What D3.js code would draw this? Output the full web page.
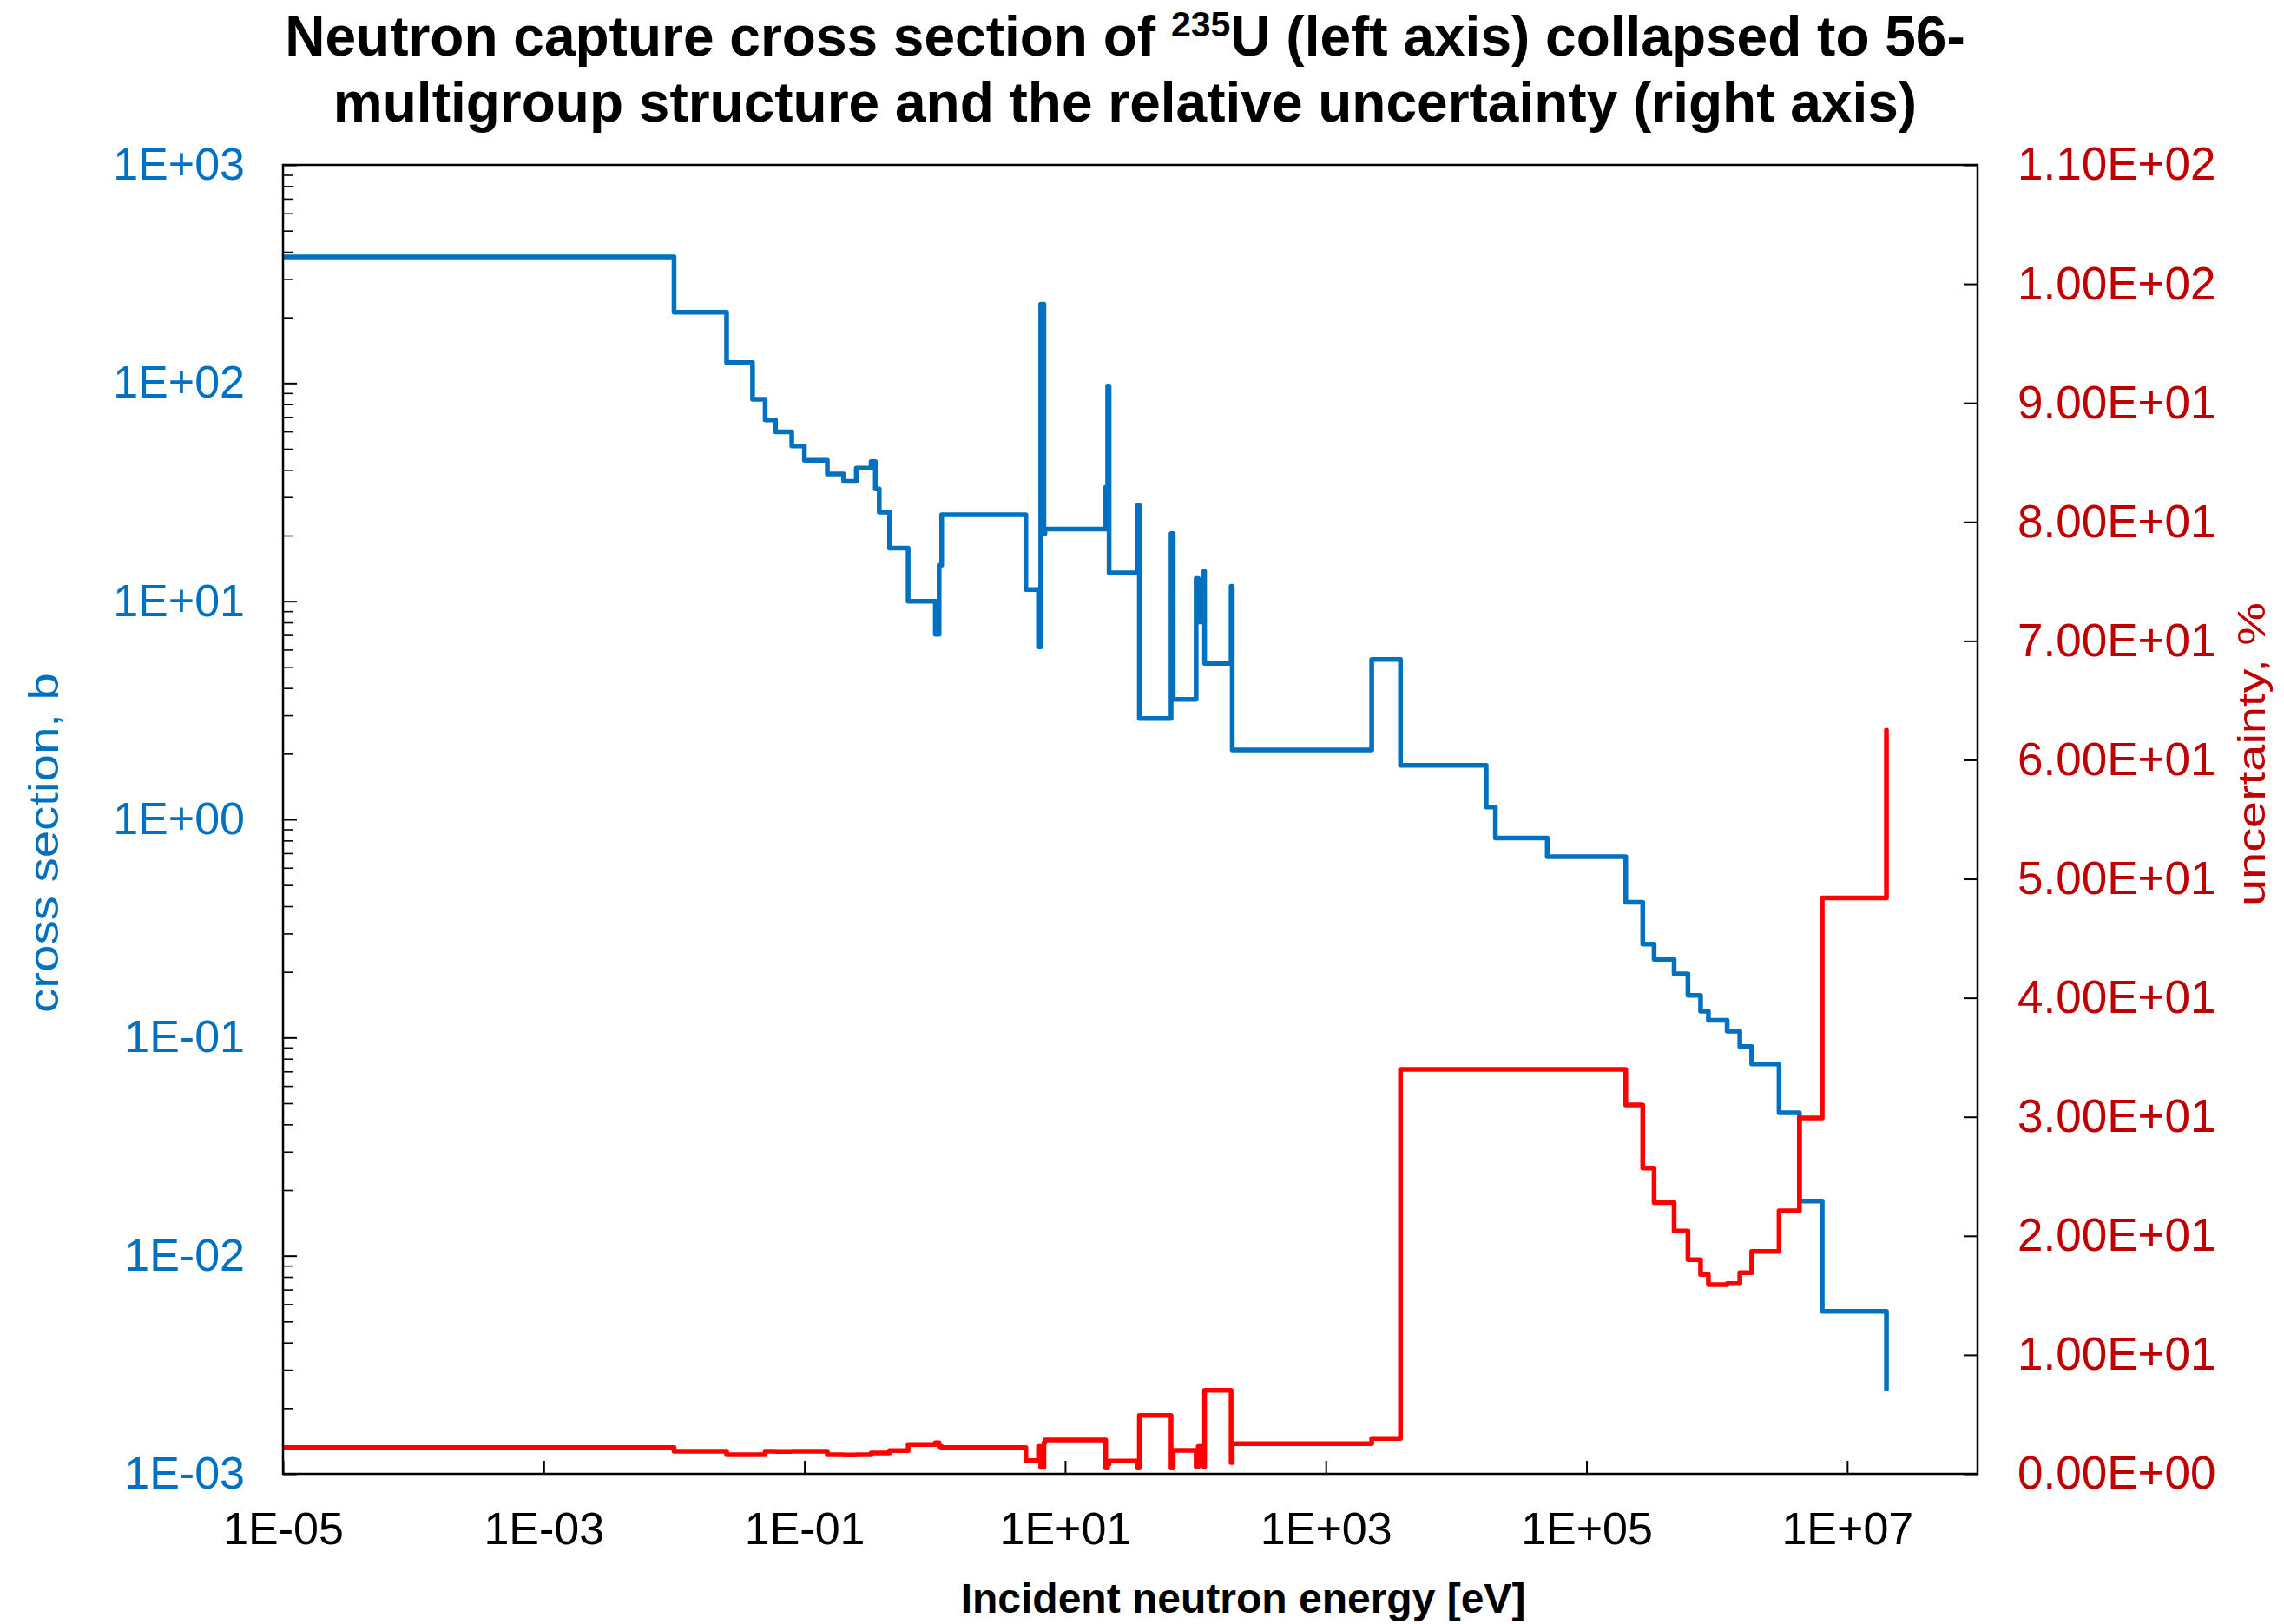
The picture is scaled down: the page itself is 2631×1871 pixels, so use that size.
<!DOCTYPE html>
<html>
<head>
<meta charset="utf-8">
<script src="https://cdn.jsdelivr.net/npm/d3@7"></script>
<style>
  html, body { margin: 0; padding: 0; background: #fff; }
  svg { display: block; }
</style>
</head>
<body>
<svg id="chart" width="2631" height="1871"></svg>
<script>
// Group boundaries of the 56-group structure, eV (ascending)
const energyBounds = [
  1e-5, 1e-2, 2.53e-2, 4e-2, 5e-2, 6e-2, 8e-2, 1e-1, 1.5e-1, 2e-1, 2.5e-1,
  3.25e-1, 3.5e-1, 3.75e-1, 4.5e-1, 6.25e-1, 1.01, 1.08, 1.13, 5.0, 6.25,
  6.5, 6.875, 7.0, 20.48, 21.2, 21.75, 36, 37.13, 65, 67.5, 101.2, 105, 116,
  117.5, 187.7, 191.5, 2250, 3740, 17000, 20000, 50000, 2e5, 2.7e5, 3.3e5,
  4.7e5, 6e5, 7.5e5, 8.61e5, 1.2e6, 1.5e6, 1.85e6, 3e6, 4.3e6, 6.43e6, 2e7
];

// Group-averaged capture cross section, barns (one value per group)
const crossSection = [
  379, 211, 124, 84.3, 67.8, 59.8, 51.5, 44.3, 38.3, 35.5, 40.8,
  43.7, 32.7, 25.6, 17.5, 10.0, 7.06, 14.6, 24.9, 11.3, 6.18,
  230, 20.4, 21.4, 33.3, 97, 13.5, 27.5, 2.9, 20.4, 3.55, 12.7, 8.03,
  13.7, 5.19, 11.7, 2.08, 5.41, 1.77, 1.14, 0.822, 0.675, 0.417, 0.268,
  0.228, 0.196, 0.156, 0.132, 0.120, 0.107, 0.091, 0.0756, 0.0452, 0.0178, 0.00556
];
const crossSectionEnd = 0.00245;

// Relative uncertainty, % (one value per group)
const uncertainty = [
  2.21, 1.90, 1.60, 1.60, 1.90, 1.88, 1.90, 1.90, 1.60, 1.58, 1.60,
  1.75, 1.75, 1.75, 1.95, 2.46, 2.60, 2.30, 2.21, 1.12, 2.30,
  0.55, 2.60, 2.84, 0.50, 0.80, 1.07, 0.50, 4.91, 0.50, 1.97, 0.60, 2.30,
  0.60, 7.03, 0.95, 2.53, 2.97, 34.0, 34.0, 34.0, 34.0, 31.0, 25.7,
  22.8, 20.4, 18.0, 16.75, 15.9, 16.0, 16.9, 18.7, 22.1, 29.9, 48.4
];
const uncertaintyEnd = 62.5;

// Tick values
const energyTicks = [1e-5, 1e-3, 1e-1, 1e1, 1e3, 1e5, 1e7];
const sigmaTicks = [1e-3, 1e-2, 1e-1, 1e0, 1e1, 1e2, 1e3];
const uncTicks = [0, 10, 20, 30, 40, 50, 60, 70, 80, 90, 100, 110];

const FONT = "'Liberation Sans', Arial, Helvetica, sans-serif";
const BLUE = "#0070C0";
const RED = "#FF0000";
const DARKRED = "#C00000";

const plot = { left: 326, right: 2278, top: 190, bottom: 1698 };

const svg = d3.select("#chart");

const x = d3.scaleLog().domain([1e-5, 1e8]).range([plot.left, plot.right]);
const yL = d3.scaleLog().domain([1e-3, 1e3]).range([plot.bottom, plot.top]);
const yR = d3.scaleLinear().domain([0, 110]).range([plot.bottom, plot.top]);

function expLabel(v) {
  const p = Math.round(Math.log10(v));
  return "1E" + (p < 0 ? "-" : "+") + String(Math.abs(p)).padStart(2, "0");
}
function sciLabel(v) {
  const s = v.toExponential(2);           // e.g. "1.10e+2"
  const [m, e] = s.split("e");
  const n = parseInt(e, 10);
  return m + "E" + (n < 0 ? "-" : "+") + String(Math.abs(n)).padStart(2, "0");
}

// Minor ticks of the log axis (2..9 in every decade)
const sigmaMinor = [];
for (let d = -3; d < 3; d++) {
  for (let k = 2; k <= 9; k++) sigmaMinor.push(k * Math.pow(10, d));
}

// Left axis: minor ticks
const gMinor = svg.append("g")
  .attr("transform", `translate(${plot.left},0)`)
  .call(d3.axisLeft(yL).tickValues(sigmaMinor).tickSize(-12).tickFormat(""));
gMinor.select(".domain").remove();
gMinor.selectAll("line").attr("stroke", "#000").attr("stroke-width", 1.6);

// Left axis: decades
const gLeft = svg.append("g")
  .attr("transform", `translate(${plot.left},0)`)
  .call(d3.axisLeft(yL).tickValues(sigmaTicks).tickSize(-16).tickPadding(44).tickFormat(expLabel));
gLeft.select(".domain").remove();
gLeft.selectAll("line").attr("stroke", "#000").attr("stroke-width", 2);
gLeft.selectAll("text")
  .attr("fill", BLUE).attr("font-family", FONT).attr("font-size", 52);

// Right axis
const gRight = svg.append("g")
  .attr("transform", `translate(${plot.right},0)`)
  .call(d3.axisRight(yR).tickValues(uncTicks).tickSize(-16).tickPadding(46).tickFormat(sciLabel));
gRight.select(".domain").remove();
gRight.selectAll("line").attr("stroke", "#000").attr("stroke-width", 2);
gRight.selectAll("text")
  .attr("fill", DARKRED).attr("font-family", FONT).attr("font-size", 53);

// Bottom axis
const gBottom = svg.append("g")
  .attr("transform", `translate(0,${plot.bottom})`)
  .call(d3.axisBottom(x).tickValues(energyTicks).tickSize(-15).tickPadding(44).tickFormat(expLabel));
gBottom.select(".domain").remove();
gBottom.selectAll("line").attr("stroke", "#000").attr("stroke-width", 2);
gBottom.selectAll("text")
  .attr("fill", "#000").attr("font-family", FONT).attr("font-size", 52);

// Step series: each group value held from its lower to its upper bound
function stepPoints(values, endValue) {
  const pts = values.map((v, i) => [energyBounds[i], v]);
  const last = energyBounds[energyBounds.length - 1];
  pts.push([last, values[values.length - 1]]);
  pts.push([last, endValue]);
  return pts;
}

svg.append("clipPath").attr("id", "plotClip")
  .append("rect")
  .attr("x", plot.left).attr("y", plot.top - 4)
  .attr("width", plot.right - plot.left).attr("height", plot.bottom - plot.top + 8);

const lineL = d3.line().curve(d3.curveStepAfter)
  .x(d => x(d[0])).y(d => yL(d[1]));
const lineR = d3.line().curve(d3.curveStepAfter)
  .x(d => x(d[0])).y(d => yR(d[1]));

svg.append("path")
  .attr("d", lineL(stepPoints(crossSection, crossSectionEnd)))
  .attr("fill", "none").attr("stroke", BLUE).attr("stroke-width", 5.5)
  .attr("stroke-linejoin", "round").attr("stroke-linecap", "round")
  .attr("clip-path", "url(#plotClip)");

svg.append("path")
  .attr("d", lineR(stepPoints(uncertainty, uncertaintyEnd)))
  .attr("fill", "none").attr("stroke", RED).attr("stroke-width", 5.5)
  .attr("stroke-linejoin", "round").attr("stroke-linecap", "round")
  .attr("clip-path", "url(#plotClip)");

// Plot frame
svg.append("rect")
  .attr("x", plot.left).attr("y", plot.top)
  .attr("width", plot.right - plot.left).attr("height", plot.bottom - plot.top)
  .attr("fill", "none").attr("stroke", "#000").attr("stroke-width", 2.5);

// Title
const title = svg.append("g")
  .attr("font-family", FONT).attr("font-weight", "bold")
  .attr("font-size", 64).attr("fill", "#000").attr("text-anchor", "middle");
const t1 = title.append("text").attr("x", 1296).attr("y", 64);
t1.append("tspan").text("Neutron capture cross section of ");
t1.append("tspan").attr("font-size", 41).attr("dy", -22).text("235");
t1.append("tspan").attr("dy", 22).text("U (left axis) collapsed to 56-");
title.append("text").attr("x", 1296).attr("y", 140)
  .text("multigroup structure and the relative uncertainty (right axis)");

// Axis titles
svg.append("text")
  .attr("x", 1432).attr("y", 1858)
  .attr("text-anchor", "middle")
  .attr("font-family", FONT).attr("font-weight", "bold").attr("font-size", 48)
  .attr("fill", "#000")
  .text("Incident neutron energy [eV]");

svg.append("text")
  .attr("transform", "translate(67,971) rotate(-90)")
  .attr("text-anchor", "middle")
  .attr("font-family", FONT).attr("font-size", 48)
  .attr("textLength", 392).attr("lengthAdjust", "spacingAndGlyphs")
  .attr("fill", BLUE)
  .text("cross section, b");

svg.append("text")
  .attr("transform", "translate(2609,869) rotate(-90)")
  .attr("text-anchor", "middle")
  .attr("font-family", FONT).attr("font-size", 45)
  .attr("textLength", 350).attr("lengthAdjust", "spacingAndGlyphs")
  .attr("fill", DARKRED)
  .text("uncertainty, %");
</script>
</body>
</html>
